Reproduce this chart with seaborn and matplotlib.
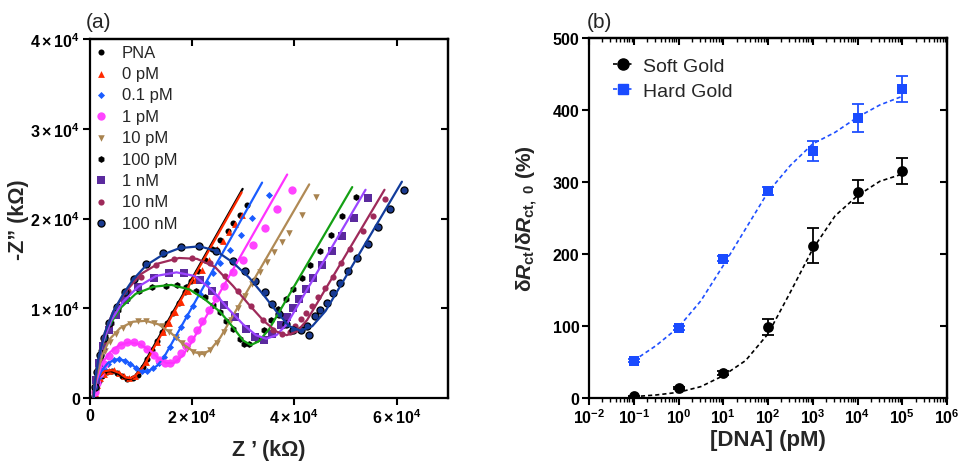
import numpy as np
import pandas as pd
import matplotlib
matplotlib.use('Agg')
import matplotlib.pyplot as plt
from matplotlib.lines import Line2D
from matplotlib.ticker import LogLocator, NullFormatter
import seaborn as sns

# ---- panel (a): Nyquist data, (Z', -Z'') in units of 1e3 kOhm ----
pna_pts = [(0.9, 0.2), (1.2, 1.0), (1.8, 1.9), (2.5, 2.5), (3.4, 2.9), (4.4, 3.0), (5.4, 2.8),
           (6.4, 2.4), (7.4, 2.1), (8.4, 2.2), (9.4, 2.6), (10.4, 3.4), (11.2, 4.4), (12.2, 5.4),
           (13.2, 6.4), (14.2, 7.4), (15.2, 8.4), (16.3, 9.5), (17.4, 10.6), (18.6, 11.8),
           (19.8, 13.0), (21.1, 14.2), (22.5, 15.4), (24.0, 16.6), (25.5, 17.6), (27.0, 18.6),
           (28.0, 19.5), (29.3, 20.4), (30.7, 21.5)]
pna_fit = [(0.6, 0.0), (1.0, 1.3), (1.8, 2.3), (2.8, 2.9), (4.2, 3.0), (5.6, 2.7), (6.8, 2.2),
           (7.8, 2.1), (8.8, 2.4), (10.2, 3.4), (29.9, 23.3)]

pm0_pts = [(1.1, 0.6), (1.5, 1.5), (2.1, 2.2), (2.9, 2.7), (3.8, 3.0), (4.8, 3.1), (5.8, 2.8),
           (6.8, 2.4), (7.8, 2.2), (8.8, 2.4), (9.9, 3.1), (11.0, 4.0), (12.1, 5.1), (13.2, 6.2),
           (14.3, 7.3), (15.5, 8.4), (16.7, 9.6), (17.9, 10.7), (19.2, 11.9), (20.6, 13.1),
           (22.0, 14.3), (23.4, 15.4), (24.9, 16.6), (26.0, 17.5), (27.3, 18.5), (28.5, 19.4),
           (29.7, 20.4)]
pm0_fit = [(0.7, 0.0), (1.1, 1.4), (1.9, 2.4), (3.0, 3.0), (4.4, 3.1), (5.8, 2.8), (7.0, 2.3),
           (8.0, 2.2), (9.0, 2.5), (10.5, 3.5), (29.7, 22.9)]

pm01_pts = [(1.0, 0.6), (1.4, 1.5), (2.0, 2.4), (2.8, 3.2), (3.7, 3.8), (4.7, 4.2), (5.8, 4.3),
            (6.9, 4.1), (8.0, 3.8), (9.1, 3.3), (10.2, 3.0), (11.3, 3.0), (12.4, 3.3), (13.5, 3.9),
            (14.6, 4.6), (15.7, 5.7), (16.8, 6.8), (17.9, 7.9), (19.1, 9.1), (20.3, 10.3),
            (21.6, 11.6), (22.9, 12.8), (24.1, 13.9), (25.4, 15.0), (27.5, 16.5), (29.6, 18.2),
            (31.8, 20.1), (35.1, 22.6)]
pm01_fit = [(0.7, 0.0), (1.3, 1.6), (2.3, 3.0), (3.6, 3.9), (5.2, 4.3), (6.8, 4.2), (8.3, 3.7),
            (9.6, 3.1), (10.8, 2.9), (12.2, 3.2), (13.2, 3.6), (14.4, 4.4), (33.7, 24.0)]

pm1_pts = [(1.0, 0.7), (1.4, 1.7), (2.0, 2.8), (2.8, 3.8), (3.8, 4.7), (4.9, 5.4), (6.1, 5.9),
           (7.4, 6.2), (8.7, 6.2), (10.0, 6.0), (11.3, 5.5), (12.5, 4.8), (13.6, 4.2), (14.7, 3.9),
           (15.8, 3.9), (16.8, 4.3), (17.8, 5.0), (18.8, 5.8), (19.8, 6.6), (20.9, 7.6),
           (22.0, 8.6), (23.3, 9.8), (24.7, 11.1), (26.3, 12.5), (28.1, 14.0), (29.9, 15.4),
           (32.0, 17.1), (34.2, 18.9), (36.6, 21.1), (39.6, 23.2)]
pm1_fit = [(0.7, 0.0), (1.4, 2.0), (2.5, 3.9), (4.0, 5.1), (5.8, 5.9), (7.8, 6.2), (9.8, 6.0),
           (11.8, 5.3), (13.5, 4.4), (15.0, 3.9), (16.5, 3.9), (18.0, 4.6), (19.5, 5.8),
           (38.6, 24.9)]

pm10_pts = [(1.2, 1.8), (1.7, 3.0), (2.3, 4.1), (3.1, 5.2), (4.1, 6.2), (5.2, 7.1), (6.5, 7.8),
            (7.9, 8.3), (9.4, 8.6), (11.0, 8.6), (12.6, 8.4), (14.1, 8.0), (15.5, 7.4), (16.8, 6.8),
            (18.0, 6.1), (19.1, 5.5), (20.2, 5.1), (21.3, 4.9), (22.4, 4.9), (23.6, 5.3),
            (24.9, 6.1), (26.2, 7.3), (27.6, 8.7), (29.0, 10.0), (30.4, 11.4), (31.8, 12.7),
            (33.2, 14.0), (34.7, 15.2), (36.1, 16.3), (37.6, 17.4), (39.0, 18.4), (41.5, 20.4),
            (44.2, 22.4)]
pm10_fit = [(0.7, 0.0), (1.4, 2.4), (2.5, 4.8), (4.0, 6.6), (6.0, 7.8), (8.5, 8.5), (11.0, 8.6),
            (13.5, 8.2), (16.0, 7.2), (18.5, 5.9), (20.5, 5.1), (22.0, 4.9), (23.5, 5.3),
            (25.5, 6.7), (42.9, 23.8)]

pm100_pts = [(1.2, 1.8), (1.7, 3.5), (2.3, 5.2), (3.1, 6.9), (4.2, 8.4), (5.6, 9.8), (7.4, 11.0),
             (9.6, 11.9), (12.2, 12.4), (15.0, 12.5), (17.0, 12.6), (18.9, 12.4), (20.8, 11.9),
             (22.5, 11.3), (24.1, 10.4), (25.4, 9.6), (26.7, 8.6), (28.0, 7.7), (29.3, 6.6),
             (30.2, 6.0), (31.2, 6.0), (32.8, 6.6), (34.1, 7.6), (35.4, 8.7), (36.8, 9.9),
             (38.3, 11.0), (39.7, 12.1), (41.4, 13.4), (43.0, 14.8), (45.0, 16.4), (47.1, 18.2),
             (49.3, 20.3), (52.1, 22.4)]
pm100_fit = [(0.7, 0.0), (1.3, 2.7), (2.3, 5.5), (3.8, 8.0), (6.0, 10.0), (9.0, 11.6),
             (12.5, 12.4), (16.0, 12.6), (19.5, 12.1), (22.5, 11.0), (25.5, 9.6), (28.0, 7.9),
             (30.0, 6.4), (31.5, 5.9), (33.0, 6.3), (35.0, 7.6), (51.3, 23.5)]

nm1_pts = [(1.3, 2.0), (1.9, 3.9), (2.7, 5.8), (3.8, 7.6), (5.2, 9.3), (7.0, 10.9), (9.5, 12.4),
           (12.5, 13.4), (15.5, 13.9), (18.5, 13.9), (21.5, 13.2), (24.0, 11.9), (26.3, 10.4),
           (28.5, 9.0), (30.5, 7.7), (32.3, 6.8), (34.0, 6.5), (35.7, 7.1), (37.3, 8.1),
           (38.5, 9.0), (39.7, 10.0), (40.9, 11.0), (42.2, 12.1), (43.7, 13.4), (45.4, 14.8),
           (47.3, 16.4), (49.3, 18.1), (51.6, 20.1), (54.3, 22.3)]
nm1_fit = [(0.7, 0.0), (1.4, 3.0), (2.5, 6.0), (4.2, 8.6), (6.5, 10.7), (9.5, 12.4), (13.0, 13.6),
           (17.0, 14.0), (20.5, 13.6), (24.0, 12.0), (27.0, 10.0), (30.0, 8.2), (32.5, 7.0),
           (34.5, 6.6), (36.5, 7.0), (38.5, 8.2), (53.9, 23.2)]

nm10_pts = [(1.3, 2.2), (2.0, 4.3), (2.9, 6.4), (4.0, 8.3), (5.5, 10.1), (7.5, 11.9), (10.0, 13.5),
            (13.0, 14.8), (16.5, 15.5), (20.0, 15.6), (23.5, 15.0), (26.5, 13.6), (29.0, 11.9),
            (31.5, 10.2), (33.8, 8.7), (35.8, 7.6), (37.6, 7.1), (39.2, 7.3), (40.1, 8.0),
            (41.2, 8.8), (42.2, 9.5), (43.4, 10.3), (44.7, 11.2), (46.0, 12.3), (47.5, 13.5),
            (49.2, 15.0), (50.9, 16.6), (53.5, 18.6), (55.3, 20.3), (57.7, 22.2)]
nm10_fit = [(0.7, 0.0), (1.5, 3.5), (2.7, 6.8), (4.5, 9.5), (7.0, 11.8), (10.0, 13.8),
            (13.5, 15.0), (17.5, 15.6), (21.0, 15.5), (24.5, 14.6), (28.0, 12.5), (31.0, 10.5),
            (34.0, 8.6), (36.5, 7.4), (38.5, 7.0), (40.5, 7.4), (42.5, 8.7), (57.6, 23.2)]

nm100_pts = [(1.0, 1.2), (1.4, 2.9), (2.0, 4.8), (2.9, 6.7), (3.9, 8.4), (5.3, 10.1), (6.9, 11.8),
             (8.7, 13.3), (11.1, 14.9), (14.4, 16.2), (17.8, 16.8), (21.3, 16.9), (24.7, 16.4),
             (28.0, 15.3), (30.4, 14.2), (32.4, 13.0), (34.2, 11.8), (35.7, 10.5), (37.0, 9.4),
             (38.4, 8.2), (39.8, 7.6), (41.2, 7.6), (42.9, 7.0), (42.5, 8.0), (44.0, 9.1),
             (45.1, 9.8), (46.3, 10.6), (47.5, 11.7), (48.9, 12.8), (50.5, 14.1), (52.2, 15.6),
             (54.3, 17.2), (56.3, 19.0), (58.7, 21.1), (61.5, 23.2)]
nm100_fit = [(0.8, 0.0), (1.1, 2.0), (1.7, 4.3), (3.0, 7.3), (4.7, 9.7), (6.6, 11.6), (8.5, 13.2),
             (11.1, 14.8), (14.4, 16.0), (17.6, 16.7), (21.5, 16.9), (24.7, 16.4), (28.0, 15.1),
             (31.2, 13.4), (34.1, 11.4), (36.7, 9.5), (39.0, 8.0), (41.2, 7.5), (43.5, 8.0),
             (46.1, 9.7), (61.0, 24.1)]

# ---- panel (b): relative change of Rct ----
conc_pm = [0.1, 1, 10, 100, 1e3, 1e4, 1e5]
soft_gold = [2.3, 13.9, 34.8, 98.2, 211.8, 286.8, 315.1]
soft_err = [1, 2, 3, 11, 24, 15.5, 18.5]
hard_gold = [51.9, 97.3, 193.7, 287.3, 342.9, 389.2, 429.6]
hard_err = [2, 3, 4, 6, 14, 19.5, 18]

fit_conc = [0.1, 0.316, 1, 3.16, 10, 31.6, 100, 316, 1e3, 3.16e3, 1e4, 3.16e4, 1e5]
soft_fit = [1.9, 4.2, 7.9, 15.8, 31, 52, 89, 147, 207, 253, 281, 301, 311]
hard_fit = [51.9, 72.8, 98.2, 135, 184, 235, 286, 323, 353, 369, 390, 407, 419]

sns.set_theme(style='ticks')
plt.rcParams['font.family'] = ['Liberation Sans', 'DejaVu Sans']
plt.rcParams['mathtext.fontset'] = 'custom'
plt.rcParams['mathtext.rm'] = 'Liberation Sans:bold'
plt.rcParams['mathtext.bf'] = 'Liberation Sans:bold'
plt.rcParams['mathtext.it'] = 'Liberation Sans:italic:bold'
plt.rcParams['axes.linewidth'] = 1.6
plt.rcParams['axes.edgecolor'] = 'black'
plt.rcParams['xtick.color'] = 'black'
plt.rcParams['ytick.color'] = 'black'

fig = plt.figure(figsize=(9.66, 4.64), dpi=100)
ax1 = fig.add_axes([89.5 / 966, 65 / 464, 358.5 / 966, 359 / 464])
ax2 = fig.add_axes([589 / 966, 65 / 464, 358 / 966, 360 / 464])

# label, points, fit, marker, marker colour, line colour, size, edge colour, edge width
nyquist = [
    ('PNA', pna_pts, pna_fit, 'o', 'black', 'black', 19, 'black', 0),
    ('0 pM', pm0_pts, pm0_fit, '^', '#ff2a00', '#ff2a00', 24, '#ff2a00', 0),
    ('0.1 pM', pm01_pts, pm01_fit, 'D', '#1a5cff', '#1a5cff', 13, '#1a5cff', 0),
    ('1 pM', pm1_pts, pm1_fit, 'o', '#ff44ff', '#ff33ff', 36, '#ff44ff', 0),
    ('10 pM', pm10_pts, pm10_fit, 'v', '#a8834f', '#b08a55', 22, '#a8834f', 0),
    ('100 pM', pm100_pts, pm100_fit, 'h', 'black', '#14a014', 24, 'black', 0),
    ('1 nM', nm1_pts, nm1_fit, 's', '#5b2a9e', '#9b44ff', 26, '#5b2a9e', 0),
    ('10 nM', nm10_pts, nm10_fit, 'o', '#9e2a5a', '#9e2a5a', 20, '#9e2a5a', 0),
    ('100 nM', nm100_pts, nm100_fit, 'o', '#1a3a8f', '#123c9c', 26, 'black', 0.9),
]

for label, pts, fit, mk, mc, lc, size, ec, ew in nyquist:
    df_pts = pd.DataFrame(pts, columns=['zre', 'zim']) * 1e3
    df_fit = pd.DataFrame(fit, columns=['zre', 'zim']) * 1e3
    sns.scatterplot(data=df_pts, x='zre', y='zim', marker=mk, color=mc, s=size,
                    edgecolor=ec, linewidth=ew, label=label, ax=ax1, zorder=3)
    sns.lineplot(data=df_fit, x='zre', y='zim', sort=False, estimator=None, color=lc,
                 lw=1.6, legend=False, ax=ax1, zorder=4)

ax1.set_xlim(0, 7e4)
ax1.set_ylim(0, 4e4)
ax1.set_xticks([0, 2e4, 4e4, 6e4])
ax1.set_xticklabels(['0', r'$\mathbf{2\times10^{4}}$', r'$\mathbf{4\times10^{4}}$',
                     r'$\mathbf{6\times10^{4}}$'])
ax1.set_yticks([0, 1e4, 2e4, 3e4, 4e4])
ax1.set_yticklabels(['0', r'$\mathbf{1\times10^{4}}$', r'$\mathbf{2\times10^{4}}$',
                     r'$\mathbf{3\times10^{4}}$', r'$\mathbf{4\times10^{4}}$'])
for t in ax1.get_xticklabels() + ax1.get_yticklabels():
    t.set_fontweight('bold')
ax1.tick_params(which='major', direction='out', length=5, width=1.5, labelsize=11.5, pad=2)
ax1.set_xlabel('Z \u2019 (k\u03a9)', fontsize=15.5, fontweight='bold')
ax1.set_ylabel('-Z\u201d (k\u03a9)', fontsize=15.5, fontweight='bold')
ax1.xaxis.set_label_coords(0.5, -0.115)
ax1.yaxis.set_label_coords(-0.168, 0.5)

top1 = ax1.secondary_xaxis('top')
top1.set_xticks([2e4, 4e4, 6e4])
top1.tick_params(direction='in', length=5, width=1.5, labeltop=False)
right1 = ax1.secondary_yaxis('right')
right1.set_yticks([1e4, 2e4, 3e4])
right1.tick_params(direction='in', length=5, width=1.5, labelright=False)

ax1.legend(loc='upper left', bbox_to_anchor=(-0.007, 1.0), frameon=False, fontsize=12,
           handlelength=1.0, handletextpad=0.75, labelspacing=0.38, borderpad=0.2,
           borderaxespad=0.15)

# panel (b)
dash = (0, (2.5, 1.8))
sns.lineplot(x=fit_conc, y=soft_fit, color='black', lw=1.2, linestyle=dash, ax=ax2,
             estimator=None, sort=False, legend=False)
sns.lineplot(x=fit_conc, y=hard_fit, color='#1f4fff', lw=1.2, linestyle=dash, ax=ax2,
             estimator=None, sort=False, legend=False)
ax2.errorbar(conc_pm, soft_gold, yerr=soft_err, fmt='none', ecolor='black', elinewidth=1.3,
             capsize=4, capthick=1.3, zorder=3)
ax2.errorbar(conc_pm, hard_gold, yerr=hard_err, fmt='none', ecolor='#1f4fff', elinewidth=1.3,
             capsize=4, capthick=1.3, zorder=3)
sns.scatterplot(x=conc_pm, y=soft_gold, marker='o', color='black', s=60, linewidth=0,
                ax=ax2, zorder=4)
sns.scatterplot(x=conc_pm, y=hard_gold, marker='s', color='#1a4bff', s=55, linewidth=0,
                ax=ax2, zorder=4)

ax2.set_xscale('log')
ax2.set_xlim(1e-2, 1e6)
ax2.set_ylim(0, 500)
decades = [1e-2, 1e-1, 1e0, 1e1, 1e2, 1e3, 1e4, 1e5, 1e6]
ax2.set_xticks(decades)
ax2.set_xticklabels([r'$\mathbf{10^{%d}}$' % p for p in range(-2, 7)])
ax2.xaxis.set_minor_locator(LogLocator(base=10, subs=np.arange(2, 10), numticks=100))
ax2.xaxis.set_minor_formatter(NullFormatter())
ax2.set_yticks([0, 100, 200, 300, 400, 500])
ax2.set_yticklabels(['0', '100', '200', '300', '400', '500'], fontweight='bold')
ax2.tick_params(which='major', direction='out', length=5, width=1.5, labelsize=11.5, pad=2)
ax2.tick_params(which='minor', direction='out', length=3, width=1.0)
ax2.set_xlabel('[DNA] (pM)', fontsize=16, fontweight='bold')
ax2.set_ylabel(r'$\mathrm{\delta}\mathit{R}_{\mathbf{ct}}/\mathrm{\delta}\mathit{R}_{\mathbf{ct,\ 0}}$ (%)',
               fontsize=15, fontweight='bold')
ax2.xaxis.set_label_coords(0.5, -0.085)
ax2.yaxis.set_label_coords(-0.137, 0.5)

top2 = ax2.secondary_xaxis('top')
top2.set_xticks(decades)
top2.xaxis.set_minor_locator(LogLocator(base=10, subs=np.arange(2, 10), numticks=100))
top2.xaxis.set_minor_formatter(NullFormatter())
top2.tick_params(which='major', direction='in', length=5, width=1.5, labeltop=False)
top2.tick_params(which='minor', direction='in', length=3, width=1.0)
right2 = ax2.secondary_yaxis('right')
right2.set_yticks([100, 200, 300, 400])
right2.tick_params(direction='in', length=5, width=1.5, labelright=False)

handles = [Line2D([], [], color='black', lw=1.2, linestyle=dash, marker='o', ms=8),
           Line2D([], [], color='#1f4fff', lw=1.2, linestyle=dash, marker='s', ms=7.5,
                  markerfacecolor='#1a4bff', markeredgecolor='#1a4bff')]
ax2.legend(handles, ['Soft Gold', 'Hard Gold'], loc='upper left', bbox_to_anchor=(0.03, 0.985),
           frameon=False, fontsize=14, handlelength=1.0, handletextpad=0.5, labelspacing=0.4,
           borderpad=0.2)

fig.text(86 / 966, 1 - 22 / 464, '(a)', fontsize=15, va='center', ha='left')
fig.text(587 / 966, 1 - 23 / 464, '(b)', fontsize=15, va='center', ha='left')

fig.savefig('out.png', dpi=100)
